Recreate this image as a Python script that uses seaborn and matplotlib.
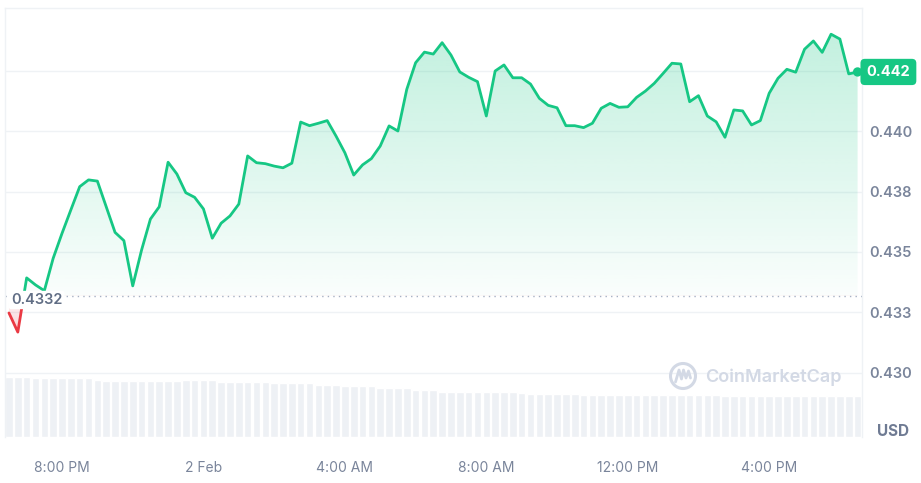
import numpy as np
import pandas as pd
import matplotlib
matplotlib.use('Agg')
import matplotlib.pyplot as plt
import matplotlib.dates as mdates
from matplotlib.patches import Circle
import seaborn as sns

# Price (USD), 15-minute points
price = [
    0.43248, 0.43169, 0.43393, 0.43364, 0.43340, 0.43474, 0.43577, 0.43674, 0.43770, 0.43798,
    0.43793, 0.43687, 0.43581, 0.43547, 0.43360, 0.43508, 0.43636, 0.43687, 0.43871, 0.43822,
    0.43745, 0.43726, 0.43678, 0.43557, 0.43619, 0.43649, 0.43698, 0.43897, 0.43869, 0.43865,
    0.43855, 0.43848, 0.43867, 0.44037, 0.44022, 0.44032, 0.44043, 0.43979, 0.43910, 0.43818,
    0.43860, 0.43886, 0.43938, 0.44021, 0.44000, 0.44172, 0.44282, 0.44326, 0.44318, 0.44365,
    0.44314, 0.44244, 0.44222, 0.44204, 0.44062, 0.44248, 0.44273, 0.44220, 0.44220, 0.44194,
    0.44135, 0.44106, 0.44096, 0.44022, 0.44022, 0.44014, 0.44032, 0.44094, 0.44114, 0.44098,
    0.44100, 0.44139, 0.44165, 0.44197, 0.44238, 0.44280, 0.44277, 0.44121, 0.44146, 0.44062,
    0.44038, 0.43974, 0.44087, 0.44083, 0.44025, 0.44043, 0.44156, 0.44218, 0.44255, 0.44243,
    0.44338, 0.44372, 0.44325, 0.44400, 0.44380, 0.44236, 0.44244,
]

# Volume (relative units)
volume = [
    6.0, 6.0, 6.0, 5.9, 5.9, 5.9, 5.9, 5.9, 5.9, 5.9,
    5.7, 5.6, 5.6, 5.6, 5.6, 5.6, 5.6, 5.6, 5.6, 5.6,
    5.7, 5.7, 5.7, 5.7, 5.55, 5.55, 5.55, 5.55, 5.5, 5.5,
    5.45, 5.4, 5.4, 5.37, 5.37, 5.2, 5.2, 5.2, 5.1, 5.1,
    5.1, 5.1, 4.95, 4.95, 4.9, 4.9, 4.7, 4.7, 4.7, 4.55,
    4.55, 4.5, 4.5, 4.47, 4.47, 4.47, 4.47, 4.47, 4.45, 4.3,
    4.3, 4.3, 4.3, 4.3, 4.3, 4.2, 4.2, 4.2, 4.2, 4.2,
    4.2, 4.2, 4.2, 4.2, 4.2, 4.2, 4.2, 4.2, 4.2, 4.2,
    4.2, 4.1, 4.1, 4.1, 4.1, 4.1, 4.1, 4.1, 4.1, 4.1,
    4.1, 4.1, 4.1, 4.1, 4.1, 4.1, 4.1,
]

start_time = '2024-02-01 18:30'
baseline = 0.4332
baseline_label = '0.4332'
last_label = '0.442'

# the top tick sits under the last-price tag, so its own label stays blank
ytick_values = [0.4300, 0.4325, 0.4350, 0.4375, 0.4400, 0.4425]
ytick_labels = ['0.430', '0.433', '0.435', '0.438', '0.440', '']
xtick_times = ['2024-02-01 20:00', '2024-02-02 00:00', '2024-02-02 04:00',
               '2024-02-02 08:00', '2024-02-02 12:00', '2024-02-02 16:00']
xtick_labels = ['8:00 PM', '2 Feb', '4:00 AM', '8:00 AM', '12:00 PM', '4:00 PM']

GREEN = '#16c784'
RED = '#ea3943'
GRID = '#eff2f5'
TEXT = '#7a859b'

times = pd.date_range(start_time, periods=len(price), freq='15min')
x = mdates.date2num(times.to_pydatetime())
step = x[1] - x[0]
df = pd.DataFrame({'x': x, 'price': price, 'volume': volume})

sns.set_style('white')
plt.rcParams['font.family'] = ['Inter', 'DejaVu Sans']

W, H = 921, 483
fig = plt.figure(figsize=(W / 100, H / 100), dpi=100)
rect = [5 / W, (H - 437) / H, (862 - 5) / W, (437 - 8) / H]
ax_vol = fig.add_axes(rect)
ax = fig.add_axes(rect, sharex=ax_vol)
ax.patch.set_visible(False)

xmin = x[0] - 0.45 * step
xmax = x[0] + 96.5 * step
ymin, ymax = 0.427355, 0.445083

# volume bars
sns.barplot(data=df, x='x', y='volume', native_scale=True, width=0.86,
            color='#eef1f5', saturation=1, errorbar=None, ax=ax_vol)
ax_vol.set_ylim(0, 42.9)
ax_vol.axis('off')

# gradient fills between line and baseline
poly = ax.fill_between(x, price, baseline, facecolor='none', edgecolor='none')
clip = poly.get_paths()[0]

g = matplotlib.colors.to_rgb(GREEN)
up = np.zeros((256, 1, 4))
up[..., :3] = g
up[:, 0, 3] = np.linspace(0.02, 0.26, 256)
im_up = ax.imshow(up, extent=[xmin, xmax, baseline, max(price)], origin='lower',
                  aspect='auto', zorder=1, interpolation='bilinear')
im_up.set_clip_path(clip, transform=ax.transData)

r = matplotlib.colors.to_rgb(RED)
dn = np.zeros((256, 1, 4))
dn[..., :3] = r
dn[:, 0, 3] = np.linspace(0.22, 0.05, 256)
im_dn = ax.imshow(dn, extent=[xmin, xmax, min(price), baseline], origin='lower',
                  aspect='auto', zorder=1, interpolation='bilinear')
im_dn.set_clip_path(clip, transform=ax.transData)

# price line: green above baseline, red below
sns.lineplot(data=df, x='x', y='price', color=GREEN, lw=2, ax=ax, zorder=3)
ln = ax.lines[-1]
ln.set_clip_path(matplotlib.patches.Rectangle((xmin, baseline), xmax - xmin, ymax - baseline,
                                              transform=ax.transData))
sns.lineplot(data=df, x='x', y='price', color=RED, lw=2, ax=ax, zorder=3)
ln = ax.lines[-1]
ln.set_clip_path(matplotlib.patches.Rectangle((xmin, ymin), xmax - xmin, baseline - ymin,
                                              transform=ax.transData))

sns.scatterplot(data=df.tail(1), x='x', y='price', color=GREEN, s=45,
                edgecolor='none', ax=ax, zorder=4, clip_on=False)

ax.axhline(baseline, color='#a6b0c3', lw=1, ls=(0, (1, 3)), zorder=2)

ax.set_xlim(xmin, xmax)
ax.set_ylim(ymin, ymax)
ax.set_yticks(ytick_values)
ax.set_yticklabels(ytick_labels)
ax.yaxis.tick_right()
ax.set_xticks(mdates.date2num(pd.to_datetime(xtick_times).to_pydatetime()))
ax.set_xticklabels(xtick_labels)
ax.grid(axis='y', color=GRID, lw=1)
ax.grid(axis='x', visible=False)
ax.set_axisbelow(True)
ax.set_xlabel('')
ax.set_ylabel('')
ax.tick_params(axis='y', length=0, pad=5, labelsize=10.5, labelcolor=TEXT)
for t in ax.get_yticklabels():
    t.set_fontweight('semibold')
ax.tick_params(axis='x', length=0, pad=17, labelsize=10, labelcolor=TEXT)
for s in ['top', 'left', 'right']:
    ax.spines[s].set_color(GRID)
    ax.spines[s].set_linewidth(1)
ax.spines['bottom'].set_visible(False)

# baseline value tag
fig.text(11 / W, 1 - 300 / H, baseline_label, ha='left', va='center', fontsize=10.5,
         color='#616e85', fontweight='semibold',
         bbox=dict(boxstyle='round,pad=0.15', fc='white', ec='none'))

# last price tag
ax.annotate(last_label, xy=(1, price[-1]), xycoords=('axes fraction', 'data'),
            xytext=(19, 0), textcoords='offset points', ha='center', va='center',
            fontsize=10.5, fontweight='bold', color='white', zorder=10,
            annotation_clip=False,
            bbox=dict(boxstyle='round,pad=0.42,rounding_size=0.3', fc=GREEN, ec='none'))

fig.text(893 / W, 1 - 432 / H, 'USD', ha='center', va='center', fontsize=11,
         fontweight='bold', color='#6f7b93')

# watermark
wm = '#d3d9e5'
fig.add_artist(Circle((6.83, (H - 376) / 100), 0.125, transform=fig.dpi_scale_trans,
                      fill=False, ec=wm, lw=2.2))
fig.add_artist(matplotlib.lines.Line2D(
    [6.755, 6.79, 6.815, 6.835, 6.86, 6.885, 6.905],
    [1.01, 1.13, 1.04, 1.13, 1.05, 1.12, 1.05],
    transform=fig.dpi_scale_trans, color=wm, lw=2.0, solid_capstyle='round'))
fig.text(705 / W, 1 - 377 / H, 'CoinMarketCap', ha='left', va='center', fontsize=13,
         fontweight='semibold', color=wm)

fig.savefig('out.png', dpi=100)
